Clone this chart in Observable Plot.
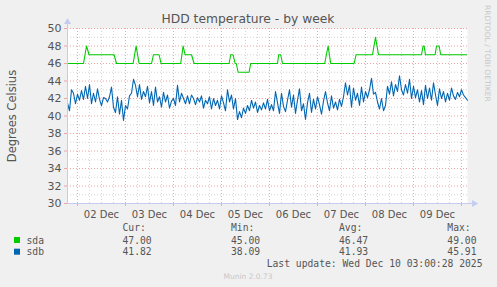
<!DOCTYPE html>
<html>
<head>
<meta charset="utf-8">
<script src="https://cdn.jsdelivr.net/npm/d3@7"></script>
<script src="https://cdn.jsdelivr.net/npm/@observablehq/plot@0.6"></script>
<style>
  html, body { margin: 0; padding: 0; background: #F0F0F0; }
  #chart { width: 497px; height: 287px; }
</style>
</head>
<body>
<div id="chart"></div>
<script>
// ---- data ----
const title = "HDD temperature - by week";
const yLabel = "Degrees Celsius";
const startTime = Date.UTC(2025, 11, 1, 19, 0, 28);
const endTime = Date.UTC(2025, 11, 10, 3, 0, 28);
const yTicks = [30, 32, 34, 36, 38, 40, 42, 44, 46, 48, 50];
const dayLabels = ["02 Dec", "03 Dec", "04 Dec", "05 Dec", "06 Dec", "07 Dec", "08 Dec", "09 Dec"];

// sda: breakpoints (hours after start, value)
const sdaHours = [0, 8, 9.5, 10.8, 23.3, 24.5, 32.8, 34.3, 35.8, 42, 43, 45.8, 46.8, 56.6, 57.8, 58.8, 62, 63.3,
  80.8, 81.6, 82.8, 83.8, 84.4, 85.3, 90.8, 91.6, 105, 105.6, 106.6, 107.5, 128.6, 130.3, 131.6, 143.3, 144.3,
  152.5, 154, 155.5, 177, 177.8, 178.3, 179, 183.8, 184.5, 185.8, 186.6, 199.6];
const sdaValues = [46, 46, 48, 47, 47, 46, 46, 48, 46, 46, 47, 47, 46, 46, 48, 47, 47, 46,
  46, 47, 47, 46, 46, 45, 45, 46, 46, 47, 47, 46, 46, 48, 46, 46, 47,
  47, 49, 47, 47, 48, 48, 47, 47, 48, 48, 47, 47];

// sdb: hourly samples
const sdbValues = [
  41.5, 40.6, 43.0, 42.6, 41.4, 42.5, 41.8, 42.9, 41.9, 43.4,
  42.0, 43.6, 41.4, 42.6, 41.6, 43.1, 41.9, 41.2, 42.1, 42.0,
  41.6, 42.2, 43.3, 41.0, 40.4, 42.2, 40.2, 41.8, 39.5, 41.2,
  40.8, 42.3, 42.6, 44.2, 43.5, 42.2, 43.6, 41.9, 42.8, 42.2,
  43.4, 41.5, 42.8, 41.2, 43.3, 41.6, 42.2, 41.0, 42.7, 41.6,
  42.4, 40.9, 41.7, 42.0, 41.2, 43.5, 41.6, 42.6, 42.0, 41.4,
  42.3, 41.4, 42.4, 42.0, 41.3, 42.1, 41.6, 42.3, 40.9, 41.8,
  41.4, 42.2, 40.8, 42.0, 41.2, 41.8, 40.8, 42.3, 41.5, 40.6,
  43.0, 41.6, 42.4, 40.8, 42.0, 39.6, 40.5, 39.8, 40.9, 40.3,
  41.2, 40.6, 41.8, 40.9, 41.6, 40.4, 41.2, 40.7, 41.5, 40.8,
  41.9, 40.6, 41.3, 40.6, 42.8, 41.5, 40.3, 42.6, 41.1, 40.5,
  41.8, 43.0, 41.0, 42.4, 40.3, 41.8, 43.1, 40.6, 41.4, 39.6,
  41.5, 42.6, 40.4, 41.9, 40.8, 42.2, 41.3, 40.2, 41.7, 42.8,
  41.5, 40.6, 42.3, 40.9, 41.6, 40.7, 41.9, 41.1, 42.2, 43.8,
  42.4, 43.5, 41.0, 43.2, 41.8, 42.6, 41.2, 43.3, 41.6, 42.8,
  42.1, 43.0, 44.3, 42.5, 42.7, 41.6, 40.8, 42.0, 40.6, 41.2,
  43.4, 42.5, 43.9, 42.3, 43.6, 42.8, 44.6, 43.0, 42.4, 43.6,
  42.6, 44.2, 42.0, 43.4, 42.1, 43.0, 41.6, 42.9, 41.3, 43.5,
  42.0, 43.2, 41.8, 43.8, 42.4, 41.2, 43.1, 42.0, 42.8, 41.6,
  42.6, 41.8, 43.2, 42.3, 41.9, 42.7, 42.2, 43.0, 42.4, 42.1, 41.8
];

const seriesNames = ["sda", "sdb"];
const seriesColors = ["#00CC00", "#0066B3"];
const legendHeaders = ["Cur:", "Min:", "Avg:", "Max:"];
const legendRows = [
  ["47.00", "45.00", "46.47", "49.00"],
  ["41.82", "38.09", "41.93", "45.91"]
];
const lastUpdate = "Last update: Wed Dec 10 03:00:28 2025";
const vendorText = "RRDTOOL / TOBI OETIKER";
const footer = "Munin 2.0.73";

// ---- derived tables ----
const HOUR = 3600 * 1000;
const sda = sdaHours.map((h, i) => ({t: new Date(startTime + h * HOUR), v: sdaValues[i]}));
const sdb = sdbValues.map((v, i) => ({t: new Date(startTime + i * HOUR), v}));
const t0 = new Date(startTime), t1 = new Date(endTime);
const firstMidnight = d3.utcDay.ceil(t0);
const majorTimes = d3.utcDay.range(firstMidnight, t1);
const minorTimes = d3.utcHour.every(6).range(t0, t1).filter(d => d.getUTCHours() !== 0);
const noonTimes = majorTimes.map(d => new Date(+d + 12 * HOUR)).slice(0, dayLabels.length);
const minorY = d3.range(31, 50, 2);
const majorY = yTicks.slice(1, -1).concat([50]);

const axisColor = "#c4cbf2";
const gridMinor = "#d4d4d4";
const gridMajor = "#f0a4a4";
const textColor = "#555";

const plot = Plot.plot({
  width: 497, height: 287,
  marginLeft: 67, marginRight: 30, marginTop: 28, marginBottom: 84,
  style: {background: "transparent", fontFamily: "DejaVu Sans, sans-serif", fontSize: "11px", color: textColor, overflow: "visible"},
  x: {type: "utc", domain: [t0, t1]},
  y: {domain: [30, 50]},
  marks: [
    Plot.frame({fill: "white", stroke: null}),
    Plot.ruleX(minorTimes, {stroke: gridMinor, strokeDasharray: "1,2"}),
    Plot.ruleY(minorY, {stroke: gridMinor, strokeDasharray: "1,2"}),
    Plot.ruleX(majorTimes, {stroke: gridMajor, strokeDasharray: "1,2"}),
    Plot.ruleY(majorY, {stroke: gridMajor, strokeDasharray: "1,2"}),
    Plot.line(sdb, {x: "t", y: "v", stroke: seriesColors[1], strokeWidth: 1.1}),
    Plot.line(sda, {x: "t", y: "v", stroke: seriesColors[0], strokeWidth: 1.1}),
    Plot.axisY(yTicks, {tickSize: 3, stroke: gridMajor, fill: textColor, tickPadding: 3, fontSize: 11, label: null}),
    Plot.axisX(majorTimes, {tickSize: 3, stroke: gridMajor, tickFormat: () => "", label: null}),
    Plot.axisX(noonTimes, {tickSize: 0, tickPadding: 7, fill: textColor, fontSize: 10, label: null,
      tickFormat: (d, i) => dayLabels[i]}),
    Plot.ruleX([t0], {y1: 30, y2: 50.6, stroke: axisColor}),
    Plot.ruleY([30], {x1: t0, x2: new Date(endTime + 3 * HOUR), stroke: axisColor}),
    Plot.dot([t0], {x: d => d, y: () => 50.75, symbol: "triangle", r: 2.6, fill: axisColor, stroke: null}),
    Plot.dot([30], {x: () => new Date(endTime + 3.3 * HOUR), y: d => d, symbol: "triangle", r: 2.6, rotate: 90, fill: axisColor, stroke: null})
  ]
});

document.getElementById("chart").appendChild(plot);
const svg = d3.select(plot);

svg.append("text").attr("x", 248).attr("y", 23).attr("text-anchor", "middle")
  .attr("font-family", "DejaVu Sans, sans-serif").attr("font-size", 12.3).attr("fill", textColor).text(title);

svg.append("text").attr("transform", "translate(16,116) rotate(-90)").attr("text-anchor", "middle")
  .attr("font-family", "DejaVu Sans, sans-serif").attr("font-size", 11.5).attr("fill", textColor).text(yLabel);

svg.append("text").attr("transform", "translate(485,5) rotate(90)").attr("text-anchor", "start")
  .attr("font-family", "DejaVu Sans, sans-serif").attr("font-size", 7.5).attr("fill", "#c8c8c8").text(vendorText);

const mono = "DejaVu Sans Mono, monospace";
const colX = [122.5, 231, 339, 447.3];
legendHeaders.forEach((h, i) => {
  svg.append("text").attr("x", colX[i]).attr("y", 230.5).attr("text-anchor", "start").attr("font-family", mono)
    .attr("font-size", 9.7).attr("fill", textColor).text(h);
});
seriesNames.forEach((name, r) => {
  const y = 243.5 + r * 11.7;
  svg.append("rect").attr("x", 14).attr("y", y - 6.5).attr("width", 6).attr("height", 6).attr("fill", seriesColors[r]);
  svg.append("text").attr("x", 26.5).attr("y", y).attr("text-anchor", "start").attr("font-family", mono)
    .attr("font-size", 9.7).attr("fill", textColor).text(name);
  legendRows[r].forEach((v, i) => {
    svg.append("text").attr("x", colX[i]).attr("y", y).attr("text-anchor", "start").attr("font-family", mono)
      .attr("font-size", 9.7).attr("fill", textColor).text(v);
  });
});
svg.append("text").attr("x", 482.5).attr("y", 267).attr("text-anchor", "end").attr("font-family", mono)
  .attr("font-size", 9.7).attr("fill", textColor).text(lastUpdate);
svg.append("text").attr("x", 248).attr("y", 279).attr("text-anchor", "middle").attr("font-family", "DejaVu Sans, sans-serif")
  .attr("font-size", 7.5).attr("fill", "#c8c8c8").text(footer);
</script>
</body>
</html>
